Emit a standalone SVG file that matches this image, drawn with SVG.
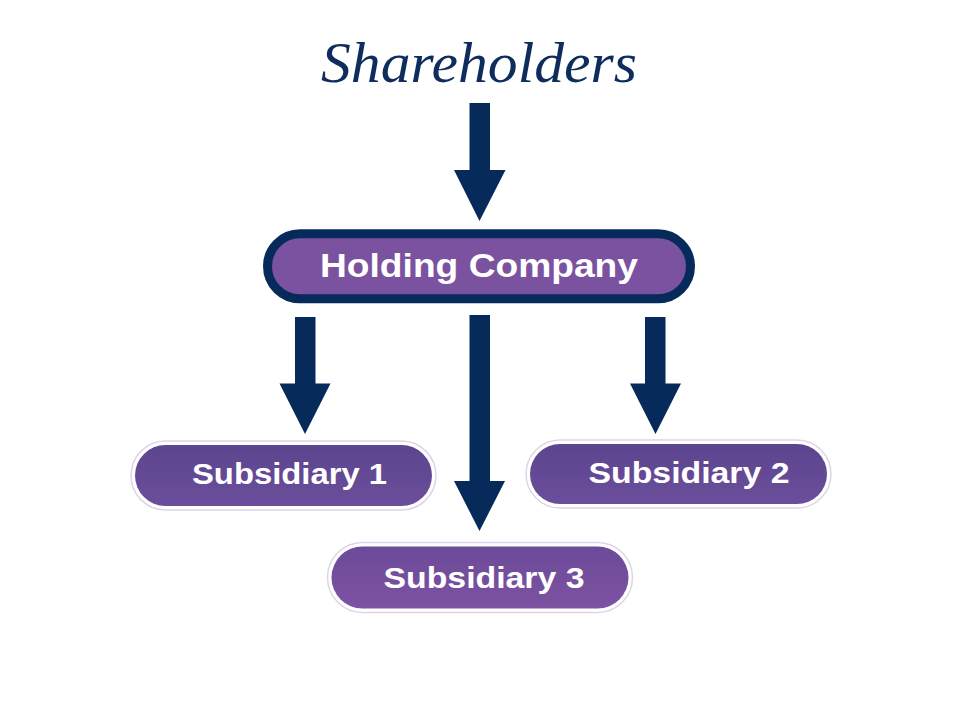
<svg xmlns="http://www.w3.org/2000/svg" width="962" height="712" viewBox="0 0 962 712">
  <style>
    .arrow { fill: #062b5a; }
    .halo { fill: #ffffff; stroke: #ddd4ea; stroke-width: 1.5; }
    .lbl { font-family: "Liberation Sans", Arial, sans-serif; font-weight: bold; fill: #ffffff; }
    .title { font-family: "Liberation Serif", "DejaVu Serif", serif; font-style: italic; fill: #0e2d5c; }
  </style>
  <defs>
    <linearGradient id="gSub" x1="0" y1="0" x2="0" y2="1">
      <stop offset="0" stop-color="#5c458f"/>
      <stop offset="1" stop-color="#6b4e9b"/>
    </linearGradient>
    <linearGradient id="gSub3" x1="0" y1="0" x2="0" y2="1">
      <stop offset="0" stop-color="#6c4b9a"/>
      <stop offset="1" stop-color="#7c52a1"/>
    </linearGradient>
  </defs>
  <rect width="962" height="712" fill="#ffffff"/>

  <g id="shareholders">
    <text class="title" x="321" y="82" font-size="58" textLength="316" lengthAdjust="spacingAndGlyphs">Shareholders</text>
  </g>

  <g id="connectors">
    <polygon class="arrow" points="469.5,103 490,103 490,170 505.5,170 479.5,221 454,170 469.5,170"/>
    <polygon class="arrow" points="295,317 315.5,317 315.5,383.5 330.5,383.5 305,434 279.5,383.5 295,383.5"/>
    <polygon class="arrow" points="469.5,315 490,315 490,481 505,481 479.5,531 454,481 469.5,481"/>
    <polygon class="arrow" points="645,317 665.5,317 665.5,383.5 681,383.5 655.5,434 630,383.5 645,383.5"/>
  </g>

  <g id="holding-company">
    <rect x="267.5" y="233.8" width="423" height="65" rx="32.5" fill="#7b52a0" stroke="#062b5a" stroke-width="9"/>
    <text class="lbl" x="320" y="277" font-size="34" textLength="318" lengthAdjust="spacingAndGlyphs">Holding Company</text>
  </g>

  <g id="subsidiary-1">
    <rect class="halo" x="131" y="441" width="305" height="69" rx="34.5"/>
    <rect x="135" y="445" width="297" height="61" rx="30.5" fill="url(#gSub)"/>
    <text class="lbl" x="192" y="484" font-size="30" textLength="195" lengthAdjust="spacingAndGlyphs">Subsidiary 1</text>
  </g>

  <g id="subsidiary-2">
    <rect class="halo" x="526" y="440" width="305" height="68" rx="34"/>
    <rect x="530" y="444" width="297" height="60" rx="30" fill="url(#gSub)"/>
    <text class="lbl" x="588.5" y="483" font-size="30" textLength="201" lengthAdjust="spacingAndGlyphs">Subsidiary 2</text>
  </g>

  <g id="subsidiary-3">
    <rect class="halo" x="327.5" y="542.5" width="305" height="70" rx="35"/>
    <rect x="331.5" y="546.5" width="297" height="62" rx="31" fill="url(#gSub3)"/>
    <text class="lbl" x="383.5" y="587.5" font-size="30" textLength="201" lengthAdjust="spacingAndGlyphs">Subsidiary 3</text>
  </g>
</svg>
